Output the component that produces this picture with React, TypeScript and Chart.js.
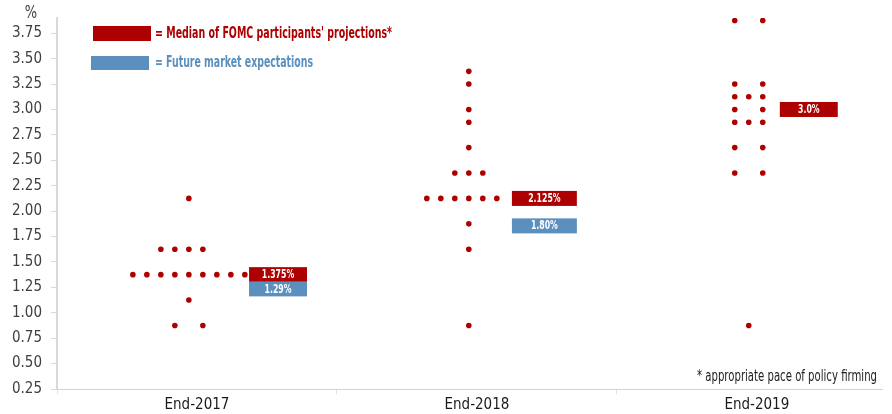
import React, { useEffect, useRef } from "react";
import { Chart, registerables } from "chart.js";

Chart.register(...registerables);

// ---------- data ----------
const categories = ["End-2017", "End-2018", "End-2019"];
const yTickValues = [0.25, 0.5, 0.75, 1.0, 1.25, 1.5, 1.75, 2.0, 2.25, 2.5, 2.75, 3.0, 3.25, 3.5, 3.75];
const yUnit = "%";

// FOMC dot plot: rate levels and number of participants at each level
const dotRates2017 = [2.125, 1.625, 1.375, 1.125, 0.875];
const dotCounts2017 = [1, 4, 9, 1, 2];
const dotRates2018 = [3.375, 3.25, 3.0, 2.875, 2.625, 2.375, 2.125, 1.875, 1.625, 0.875];
const dotCounts2018 = [1, 1, 1, 1, 1, 3, 6, 1, 1, 1];
const dotRates2019 = [3.875, 3.25, 3.125, 3.0, 2.875, 2.625, 2.375, 0.875];
const dotCounts2019 = [2, 2, 3, 2, 3, 2, 2, 1];

const medianValues = [1.375, 2.125, 3.0];
const medianLabels = ["1.375%", "2.125%", "3.0%"];
const marketLevels = [1.235, 1.855];
const marketLabels = ["1.29%", "1.80%"];

const legendLabels = ["= Median of FOMC participants' projections*", "= Future market expectations"];
const footnote = "* appropriate pace of policy firming";

// ---------- style / layout ----------
const RED = "#ad0000";
const BLUE = "#5b8fbd";
const FONT = "'Liberation Sans Narrow', 'DejaVu Sans Condensed', 'Roboto Condensed', sans-serif";
const DOT_CENTER = 0.471;
const DOT_STEP = 0.05;
const BAR_SPANS = [
  [0.686, 0.893],
  [0.625, 0.857],
  [0.582, 0.789],
];
const BAR_HALF = 7.5;

function slots(n: number): number[] {
  if (n === 2) return [-1, 1];
  const s = -Math.floor(n / 2);
  return Array.from({ length: n }, (_, k) => s + k);
}

function buildDots() {
  const groups = [
    [dotRates2017, dotCounts2017],
    [dotRates2018, dotCounts2018],
    [dotRates2019, dotCounts2019],
  ];
  const pts: { x: number; y: number }[] = [];
  groups.forEach(([rates, counts], ci) => {
    rates.forEach((r, ri) => {
      slots(counts[ri]).forEach((s) => {
        pts.push({ x: ci + DOT_CENTER + s * DOT_STEP, y: r });
      });
    });
  });
  return pts;
}

// draws text horizontally compressed (condensed look)
function squeezeText(ctx: any, text: string, x: number, y: number, sx: number, align: string) {
  ctx.save();
  ctx.translate(x, y);
  ctx.scale(sx, 1);
  ctx.textAlign = align;
  ctx.fillText(text, 0, 0);
  ctx.restore();
}

function fitText(ctx: any, text: string, x: number, y: number, width: number, align: string) {
  const w = ctx.measureText(text).width;
  squeezeText(ctx, text, x, y, Math.min(1, width / w), align);
}

const overlayPlugin = {
  id: "overlay",
  afterDatasetsDraw(chart: any) {
    const { ctx, scales } = chart;
    const xs = scales.x;
    const ys = scales.y;
    ctx.save();
    ctx.textBaseline = "middle";
    const drawBar = (ci: number, val: number, color: string, label: string) => {
      const x0 = xs.getPixelForValue(ci + BAR_SPANS[ci][0]);
      const x1 = xs.getPixelForValue(ci + BAR_SPANS[ci][1]);
      const yc = ys.getPixelForValue(val);
      ctx.fillStyle = color;
      ctx.fillRect(x0, yc - BAR_HALF, x1 - x0, BAR_HALF * 2);
      ctx.fillStyle = "#ffffff";
      ctx.font = `bold 12px ${FONT}`;
      squeezeText(ctx, label, (x0 + x1) / 2, yc + 0.5, 0.72, "center");
    };
    medianValues.forEach((v, i) => drawBar(i, v, RED, medianLabels[i]));
    marketLevels.forEach((v, i) => drawBar(i, v, BLUE, marketLabels[i]));

    // legend
    ctx.fillStyle = RED;
    ctx.fillRect(93, 26, 58, 15);
    ctx.fillStyle = BLUE;
    ctx.fillRect(91, 56, 58, 14);
    ctx.font = `bold 16px ${FONT}`;
    ctx.fillStyle = RED;
    fitText(ctx, legendLabels[0], 155, 34, 237, "left");
    ctx.fillStyle = BLUE;
    fitText(ctx, legendLabels[1], 155, 63, 158, "left");

    // unit
    ctx.fillStyle = "#404040";
    ctx.font = `17px ${FONT}`;
    squeezeText(ctx, yUnit, 31, 14, 0.85, "center");

    // footnote
    ctx.fillStyle = "#222222";
    ctx.font = `15px ${FONT}`;
    fitText(ctx, footnote, 877, 377, 180, "right");
    ctx.restore();
  },
};

export default function App() {
  const ref = useRef<HTMLCanvasElement | null>(null);
  useEffect(() => {
    if (!ref.current) return;
    const chart = new Chart(ref.current, {
      type: "scatter",
      data: {
        datasets: [
          {
            data: buildDots(),
            backgroundColor: RED,
            borderWidth: 0,
            pointRadius: 2.8,
            pointHoverRadius: 2.8,
          },
        ],
      },
      options: {
        responsive: false,
        animation: false,
        layout: { padding: { top: 14, right: 10, left: 0, bottom: 0 } },
        plugins: { legend: { display: false }, tooltip: { enabled: false } },
        scales: {
          x: {
            type: "linear",
            min: 0,
            max: 2.947,
            afterBuildTicks: (s: any) => {
              s.ticks = [0, 0.5, 1, 1.5, 2, 2.5].map((v) => ({ value: v }));
            },
            afterFit: (s: any) => {
              s.height = 25;
            },
            ticks: {
              autoSkip: false,
              maxRotation: 0,
              padding: 2,
              color: "#1a1a1a",
              font: { family: FONT, size: 15 },
              callback: (v: any) => {
                const n = Number(v);
                if (Number.isInteger(n)) return "";
                return categories[Math.floor(n)] ?? "";
              },
            },
            grid: {
              drawOnChartArea: false,
              tickLength: 5,
              color: (c: any) => (c.tick && Number.isInteger(c.tick.value) ? "#e3e3e3" : "rgba(0,0,0,0)"),
            },
            border: { color: "#d3d3d3", width: 1 },
          },
          y: {
            type: "linear",
            min: 0.25,
            max: 3.9,
            afterBuildTicks: (s: any) => {
              s.ticks = yTickValues.map((v) => ({ value: v }));
            },
            afterFit: (s: any) => {
              s.width = 57;
            },
            ticks: {
              padding: 9,
              color: "#404040",
              font: { family: FONT, size: 15 },
              callback: (v: any) => Number(v).toFixed(2),
            },
            grid: {
              drawOnChartArea: false,
              tickLength: 6,
              color: "#d9d9d9",
            },
            border: { color: "#d9d9d9", width: 2 },
          },
        },
      },
      plugins: [overlayPlugin],
    } as any);
    return () => chart.destroy();
  }, []);
  return (
    <div style={{ position: "fixed", left: 0, top: 0, width: 892, height: 414, background: "#fff" }}>
      <canvas ref={ref} width={892} height={414} style={{ display: "block" }} />
    </div>
  );
}
